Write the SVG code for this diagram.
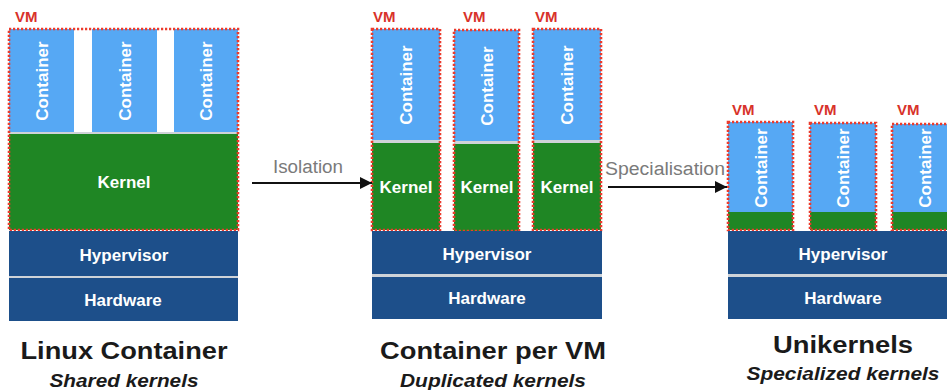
<svg xmlns="http://www.w3.org/2000/svg" width="947" height="390" viewBox="0 0 947 390">
  <defs>
    <marker id="arrowhead" viewBox="0 0 10 10" refX="10" refY="5" markerWidth="6" markerHeight="6" orient="auto" markerUnits="strokeWidth">
      <path d="M0,0 L10,5 L0,10 Z" fill="#111"/>
    </marker>
  </defs>
  <style>
    .container { fill: #56a8f4; }
    .kernel { fill: #1f8624; }
    .layer { fill: #1d4f8a; }
    .sep { fill: #cfd3d8; }
    .vm { fill: none; stroke: #ec3b2c; stroke-width: 2.6; stroke-dasharray: 2.2 1.8; }
    .vmlabel { font-family: "Liberation Sans", Arial, sans-serif; font-weight: bold; font-size: 15px; fill: #d8322a; }
    .lbl { font-family: "Liberation Sans", Arial, sans-serif; font-weight: bold; font-size: 17px; fill: #ffffff; text-anchor: middle; }
    .vlbl { font-family: "Liberation Sans", Arial, sans-serif; font-weight: bold; font-size: 17px; fill: #ffffff; text-anchor: middle; dominant-baseline: central; }
    .title { font-family: "Liberation Sans", Arial, sans-serif; font-weight: bold; font-size: 23px; fill: #1a1a1a; text-anchor: middle; }
    .subtitle { font-family: "Liberation Sans", Arial, sans-serif; font-weight: bold; font-style: italic; font-size: 18px; fill: #1a1a1a; text-anchor: middle; }
    .edge { stroke: #111; stroke-width: 2; fill: none; }
    .edgelbl { font-family: "Liberation Sans", Arial, sans-serif; font-size: 18px; fill: #7a7a7a; text-anchor: middle; }
  </style>
  <rect width="947" height="390" fill="#ffffff"/>

  <!-- Linux container: shared kernel -->
  <g id="linux-container">
    <rect class="container" x="9" y="29" width="65" height="103"/>
    <rect class="container" x="92" y="29" width="65" height="103"/>
    <rect class="container" x="174" y="29" width="64" height="103"/>
    <text class="vlbl" transform="translate(42,81) rotate(-90)">Container</text>
    <text class="vlbl" transform="translate(125,81) rotate(-90)">Container</text>
    <text class="vlbl" transform="translate(206,81) rotate(-90)">Container</text>
    <rect class="sep" x="9" y="132" width="229" height="2"/>
    <rect class="kernel" x="9" y="134" width="229" height="96"/>
    <text class="lbl" x="124" y="188">Kernel</text>
    <rect class="vm" x="9" y="29" width="229" height="201"/>
    <text class="vmlabel" x="15" y="22">VM</text>
    <rect class="layer" x="9" y="231" width="229" height="45"/>
    <rect class="sep" x="9" y="276" width="229" height="2"/>
    <rect class="layer" x="9" y="278" width="229" height="43"/>
    <text class="lbl" x="124" y="261">Hypervisor</text>
    <text class="lbl" x="123" y="306">Hardware</text>
    <text class="title" x="124" y="359" textLength="207" lengthAdjust="spacingAndGlyphs">Linux Container</text>
    <text class="subtitle" x="124" y="387" textLength="149" lengthAdjust="spacingAndGlyphs">Shared kernels</text>
  </g>

  <!-- Container per VM: duplicated kernels -->
  <g id="container-per-vm">
    <rect class="container" x="372" y="29" width="68" height="111"/>
    <rect class="sep" x="372" y="140" width="68" height="3"/>
    <rect class="kernel" x="372" y="143" width="68" height="87"/>
    <rect class="vm" x="372" y="29" width="68" height="201"/>
    <text class="vlbl" transform="translate(406,85) rotate(-90)">Container</text>
    <text class="lbl" x="406" y="193">Kernel</text>
    <text class="vmlabel" x="373" y="22">VM</text>

    <rect class="container" x="454" y="30" width="65" height="111"/>
    <rect class="sep" x="454" y="141" width="65" height="3"/>
    <rect class="kernel" x="454" y="144" width="65" height="87"/>
    <rect class="vm" x="454" y="30" width="65" height="201"/>
    <text class="vlbl" transform="translate(487,86) rotate(-90)">Container</text>
    <text class="lbl" x="487" y="193">Kernel</text>
    <text class="vmlabel" x="463" y="22">VM</text>

    <rect class="container" x="533" y="29" width="68" height="111"/>
    <rect class="sep" x="533" y="140" width="68" height="3"/>
    <rect class="kernel" x="533" y="143" width="68" height="87"/>
    <rect class="vm" x="533" y="29" width="68" height="201"/>
    <text class="vlbl" transform="translate(567,85) rotate(-90)">Container</text>
    <text class="lbl" x="567" y="193">Kernel</text>
    <text class="vmlabel" x="535" y="22">VM</text>

    <rect class="layer" x="372" y="231" width="230" height="43"/>
    <rect class="sep" x="372" y="274" width="230" height="3"/>
    <rect class="layer" x="372" y="277" width="230" height="42"/>
    <text class="lbl" x="487" y="260">Hypervisor</text>
    <text class="lbl" x="487" y="304">Hardware</text>
    <text class="title" x="493" y="359" textLength="226" lengthAdjust="spacingAndGlyphs">Container per VM</text>
    <text class="subtitle" x="493" y="387" textLength="186" lengthAdjust="spacingAndGlyphs">Duplicated kernels</text>
  </g>

  <!-- Unikernels: specialised kernels -->
  <g id="unikernels">
    <rect class="container" x="728" y="122" width="65" height="90"/>
    <rect class="kernel" x="728" y="212" width="65" height="18"/>
    <rect class="vm" x="728" y="122" width="65" height="108"/>
    <text class="vlbl" transform="translate(761,168) rotate(-90)">Container</text>
    <text class="vmlabel" x="732" y="115">VM</text>

    <rect class="container" x="810" y="123" width="66" height="89"/>
    <rect class="kernel" x="810" y="212" width="66" height="18"/>
    <rect class="vm" x="810" y="123" width="66" height="107"/>
    <text class="vlbl" transform="translate(843,168) rotate(-90)">Container</text>
    <text class="vmlabel" x="814" y="115">VM</text>

    <rect class="container" x="892" y="124" width="66" height="88"/>
    <rect class="kernel" x="892" y="212" width="66" height="18"/>
    <rect class="vm" x="892" y="124" width="66" height="106"/>
    <text class="vlbl" transform="translate(925,168) rotate(-90)">Container</text>
    <text class="vmlabel" x="897" y="115">VM</text>

    <rect class="layer" x="728" y="231" width="232" height="43"/>
    <rect class="sep" x="728" y="274" width="232" height="3"/>
    <rect class="layer" x="728" y="277" width="232" height="42"/>
    <text class="lbl" x="843" y="260">Hypervisor</text>
    <text class="lbl" x="843" y="304">Hardware</text>
    <text class="title" x="843" y="353" font-size="25" textLength="140" lengthAdjust="spacingAndGlyphs">Unikernels</text>
    <text class="subtitle" x="843" y="380" font-size="20" textLength="193" lengthAdjust="spacingAndGlyphs">Specialized kernels</text>
  </g>

  <!-- Transitions between the three approaches -->
  <g id="connectors">
    <line class="edge" x1="252" y1="183" x2="372" y2="183" marker-end="url(#arrowhead)"/>
    <text class="edgelbl" x="308" y="173" textLength="70" lengthAdjust="spacingAndGlyphs">Isolation</text>
    <line class="edge" x1="608" y1="187" x2="727" y2="187" marker-end="url(#arrowhead)"/>
    <text class="edgelbl" x="665" y="175" textLength="120" lengthAdjust="spacingAndGlyphs">Specialisation</text>
  </g>
</svg>
